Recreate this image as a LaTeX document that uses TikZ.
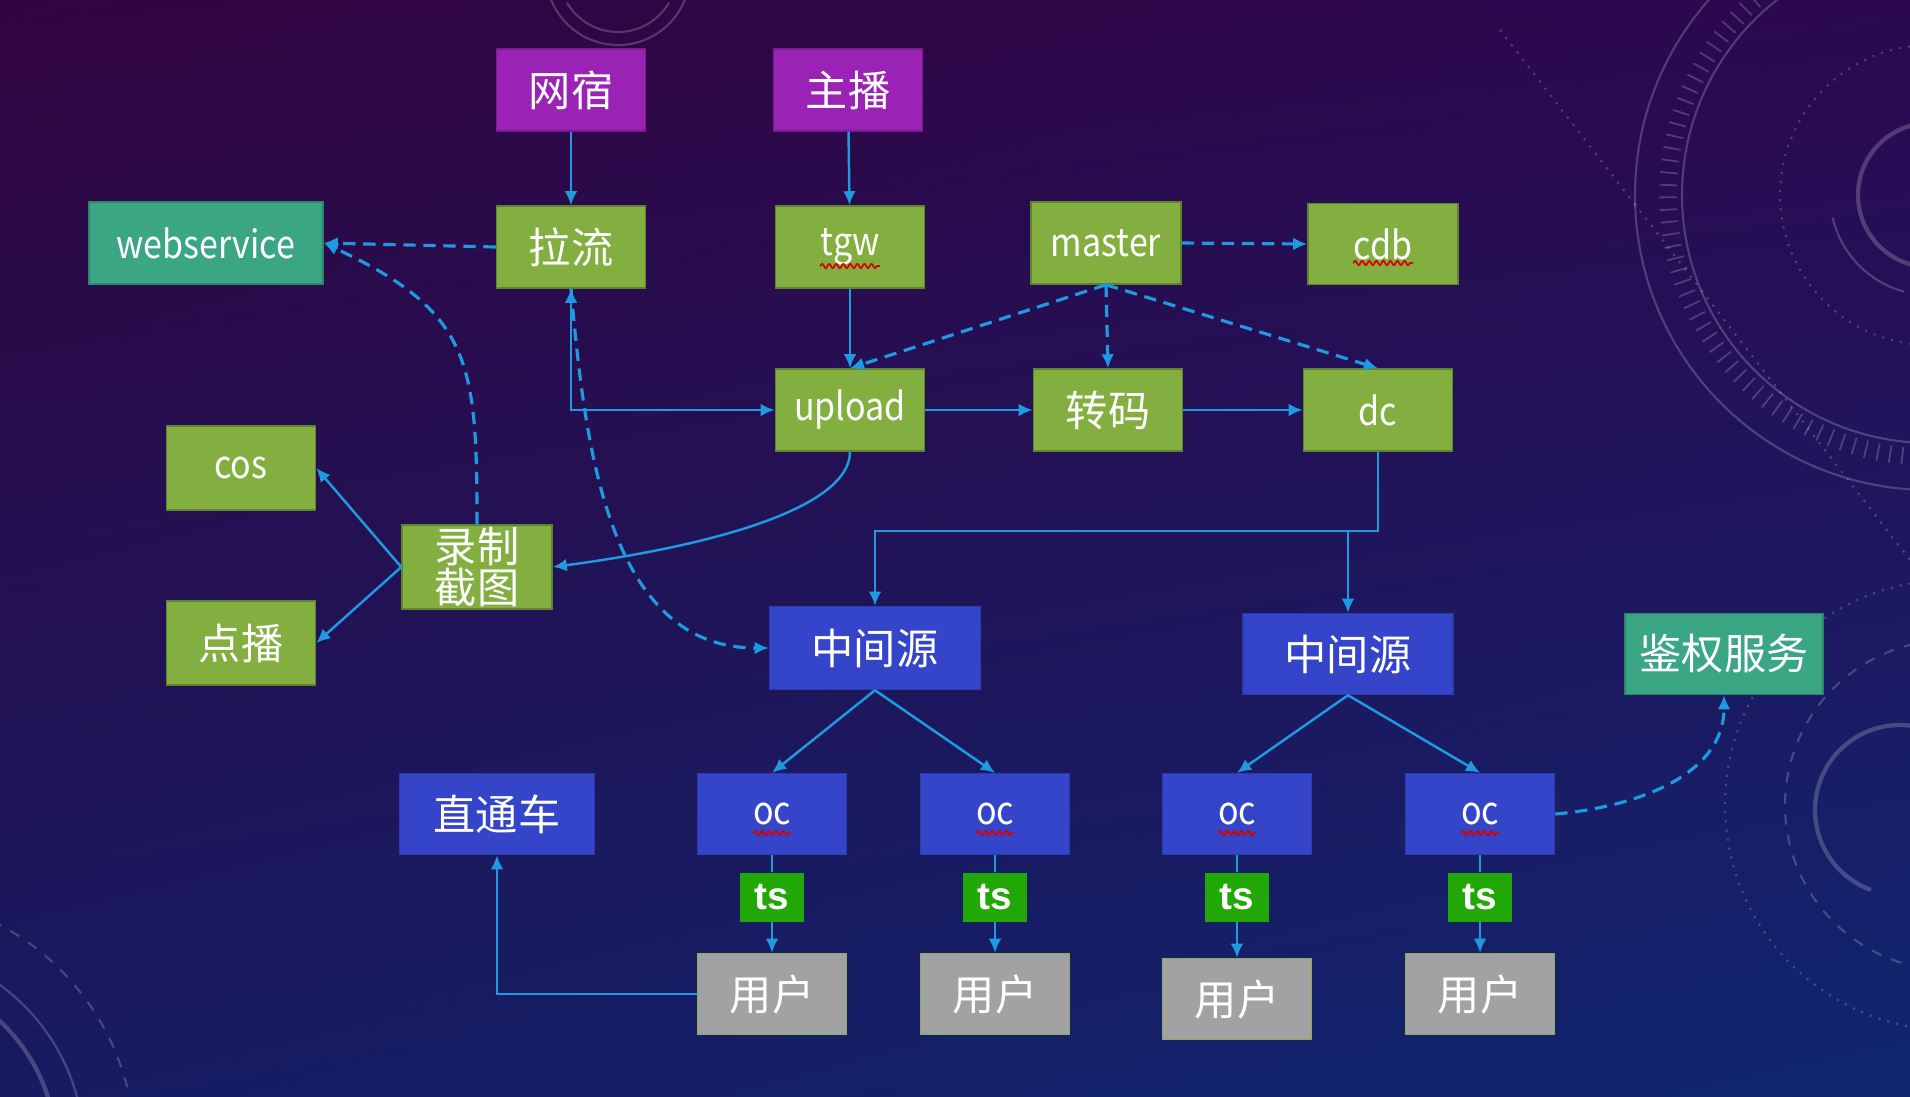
\documentclass[tikz,border=0pt]{standalone}
\usepackage{fontspec}
\setmainfont{Noto Sans CJK SC}
\newfontfamily\enfont[FakeStretch=0.88]{Noto Sans CJK SC}
\newfontfamily\tsfont{Liberation Sans}
\usepackage{tikz}
\usetikzlibrary{arrows.meta,shadings,decorations.pathmorphing}
\definecolor{GREEN}{HTML}{82AF3F}
\definecolor{PURPLE}{HTML}{9A22B4}
\definecolor{TEAL}{HTML}{3AA684}
\definecolor{BLUE}{HTML}{3545C9}
\definecolor{GRAY}{HTML}{A2A2A2}
\definecolor{TSGREEN}{HTML}{22A806}
\definecolor{LINE}{HTML}{1E9BE0}
\definecolor{BGTL}{HTML}{32043F}
\definecolor{BGTR}{HTML}{2C0850}
\definecolor{BGBL}{HTML}{171B62}
\definecolor{BGBR}{HTML}{0F2770}
\newcommand{\zh}{\fontsize{12}{11.5}\selectfont}
\newcommand{\en}{\enfont\fontsize{11}{13}\selectfont}

\begin{document}
\begin{tikzpicture}[x=0.01cm,y=0.01cm,>={Latex[length=4pt,width=3.6pt]},
  box/.style={rectangle,inner sep=0pt,minimum width=1.49cm,minimum height=0.82cm,text=white,font=\zh,line width=0.4pt},
  gbox/.style={box,fill=GREEN,draw=GREEN!75!black},
  pbox/.style={box,fill=PURPLE,draw=PURPLE!80!black},
  tbox/.style={box,fill=TEAL,draw=TEAL!80!black},
  bbox/.style={box,fill=BLUE,draw=BLUE!85!black},
  ubox/.style={box,fill=GRAY,draw=GREEN!70!GRAY},
  tsbox/.style={rectangle,inner sep=0pt,minimum width=0.64cm,minimum height=0.49cm,fill=TSGREEN,text=white,font=\tsfont\bfseries\fontsize{11}{12}\selectfont},
  line/.style={color=LINE,line width=0.7pt},
  dline/.style={line,line width=0.9pt,dash pattern=on 3.5pt off 2.2pt},
  squig/.style={draw=red!85!black,line width=0.5pt,decorate,decoration={snake,amplitude=0.6pt,segment length=2pt}},
  deco/.style={draw=white,opacity=0.2,line width=0.6pt}]

  % background
  \useasboundingbox (0,0) rectangle (1910,-1096);
  \shade[upper left=BGTL,upper right=BGTR,lower left=BGBL,lower right=BGBR] (0,0) rectangle (1910,-1096);

  \begin{scope}[deco]
    \draw (1930,-195) circle (295);
    \draw (1930,-195) circle (248);
    \draw[line width=5pt,dash pattern=on 0.5pt off 3pt] (1930,-195) circle (262);
    \draw[dotted] (1930,-195) circle (150);
    \draw[line width=1.2pt] (1930,-195) circle (72);
    \draw (1930,-195) ++(193:100) arc (193:255:100);
    \draw[dotted] (1500,-30) -- (1910,-560);
    \draw (618,27) circle (72);
    \draw (618,27) ++(-150:59) arc (-150:-30:59);
    \draw[line width=1.2pt] (1900,-810) ++(80:85) arc (80:250:85);
    \draw[dotted] (1950,-805) circle (225);
    \draw[dashed] (1950,-805) circle (165);
    \draw[line width=1.2pt] (-120,-1150) circle (176);
    \draw (-120,-1150) circle (204);
    \draw[dashed] (-120,-1150) circle (255);
  \end{scope}

  % nodes
  \node[pbox] (wangsu) at (571,-90) {网宿};
  \node[pbox] (zhubo) at (848,-90) {主播};
  \node[tbox,minimum width=2.34cm,font=\en] (websvc) at (206,-243) {webservice};
  \node[gbox] (laliu) at (571,-247) {拉流};
  \node[gbox,font=\en] (tgw) at (850,-247) {tgw};
  \node[gbox,font=\en,minimum width=1.5cm] (master) at (1106,-243) {master};
  \node[gbox,font=\en,minimum width=1.5cm,minimum height=0.81cm] (cdb) at (1383,-244) {cdb};
  \node[gbox,font=\en] (upload) at (850,-410) {upload};
  \node[gbox] (zhuanma) at (1108,-410) {转码};
  \node[gbox,font=\en] (dc) at (1378,-410) {dc};
  \node[gbox,font=\en,minimum height=0.84cm] (cos) at (241,-468) {cos};
  \node[gbox,minimum width=1.5cm,minimum height=0.84cm,align=center] (luzhi) at (477,-567) {录制\\截图};
  \node[gbox,minimum height=0.84cm] (dianbo) at (241,-643) {点播};
  \node[bbox,minimum width=2.11cm,minimum height=0.83cm] (mid1) at (875,-648) {中间源};
  \node[bbox,minimum width=2.1cm,minimum height=0.81cm] (mid2) at (1348,-654) {中间源};
  \node[tbox,minimum width=1.98cm,minimum height=0.81cm] (auth) at (1724,-654) {鉴权服务};
  \node[bbox,minimum width=1.95cm,minimum height=0.81cm] (ztc) at (497,-814) {直通车};
  \foreach \i/\x/\y in {1/772/994,2/995/994,3/1237/999,4/1480/994}{
    \node[bbox,font=\en,minimum height=0.81cm] (oc\i) at (\x,-814) {oc};
    \node[tsbox] (ts\i) at (\x,-897) {ts};
    \node[ubox,minimum height=0.81cm] (user\i) at (\x,-\y) {用户};
  }

  % spell-check marks
  \foreach \n/\w in {tgw/30,cdb/30,oc1/19,oc2/19,oc3/19,oc4/19}
    \draw[squig] ([shift={(-\w,-19)}]\n.center) -- ++(2*\w,0);

  % solid links
  \path[line,->]
    (wangsu)     edge (laliu)
    (zhubo)      edge (tgw)
    (tgw)        edge (upload)
    (upload)     edge (zhuanma)
    (zhuanma)    edge (dc)
    (luzhi.west) edge (cos.east)
                 edge (dianbo.east)
    (mid1.south) edge (oc1.north)
                 edge (oc2.north)
    (mid2.south) edge (oc3.north)
                 edge (oc4.north);
  \foreach \i in {1,2,3,4}
    \path[line,->] (oc\i) edge[-] (ts\i) (ts\i) edge (user\i);
  \draw[line,<->] (laliu.south) |- (upload.west);
  \draw[line,->] (upload.south) .. controls +(0,-55) and +(165,22) .. (luzhi.east);
  \path (dc.south) ++(0,-79) coordinate (bus);
  \draw[line,->] (dc.south) -- (bus) -| (mid1.north);
  \draw[line,->] (bus -| mid2.north) -- (mid2.north);
  \draw[line,->] (user1.west) -| (ztc.south);

  % dashed links
  \path[dline,->]
    (laliu.west)   edge (websvc.east)
    (luzhi.north)  edge[out=90,in=-25,looseness=1.3] (websvc.east)
    (laliu.south)  edge[out=-85,in=180] (mid1.west)
    (master.east)  edge (cdb.west)
    (master.south) edge (zhuanma.north)
                   edge (upload.north)
                   edge (dc.north)
    (oc4.east)     edge[out=5,in=-90] (auth.south);
\end{tikzpicture}
\end{document}
